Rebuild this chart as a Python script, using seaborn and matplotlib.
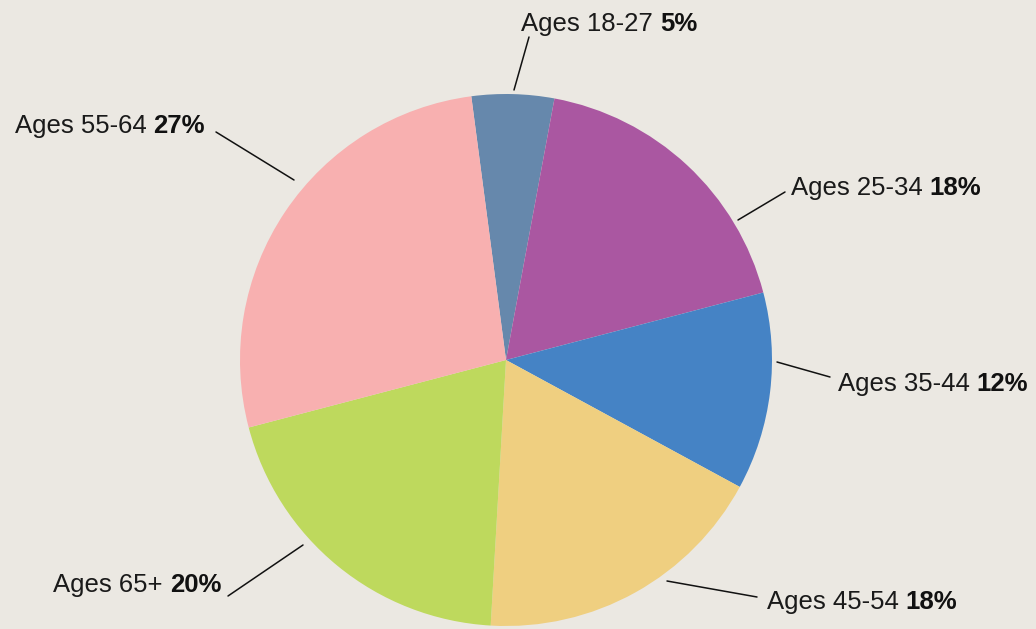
import numpy as np
import matplotlib.pyplot as plt
import seaborn as sns

# data
groups = ["Ages 18-27", "Ages 25-34", "Ages 35-44", "Ages 45-54", "Ages 65+", "Ages 55-64"]
shares = [5, 18, 12, 18, 20, 27]
colors = ["#6688ac", "#aa57a1", "#4583c5", "#efcf80", "#bed95d", "#f8b0b0"]

# layout of labels, in pixels of the 1036x629 canvas
# (line start, line end, text anchor, side)
W, H = 1036, 629
CX, CY, R = 506, 360, 266
layout = [
    ((514, 90), (529, 37), (521, 31), "left"),
    ((738, 220), (785, 192), (791, 195), "left"),
    ((777, 362), (830, 377), (838, 391), "left"),
    ((667, 581), (757, 597), (767, 609), "left"),
    ((303, 545), (228, 596), (221, 592), "right"),
    ((294, 180), (216, 132), (205, 133), "right"),
]


def to_data(p):
    return ((p[0] - CX) / R, (CY - p[1]) / R)


sns.set_theme(style="white")
plt.rcParams["font.family"] = ["Liberation Sans", "DejaVu Sans"]

bg = "#ebe8e2"
fig = plt.figure(figsize=(W / 100, H / 100), dpi=100, facecolor=bg)
ax = fig.add_axes([0, 0, 1, 1])
ax.set_facecolor(bg)

ax.pie(shares, colors=colors, startangle=97.5, counterclock=False,
       radius=1, center=(0, 0), wedgeprops=dict(linewidth=0))

fs = 18.5
for name, val, (p0, p1, pt, side) in zip(groups, shares, layout):
    a, b = to_data(p0), to_data(p1)
    ax.plot([a[0], b[0]], [a[1], b[1]], color="#111111", lw=1.1)
    tx, ty = to_data(pt)
    if side == "left":
        t = ax.text(tx, ty, name, fontsize=fs, color="#1a1a1a",
                    ha="left", va="baseline")
        ax.annotate(f"{val}%", xy=(1, 0), xycoords=t, xytext=(5, 0),
                    textcoords="offset points", fontsize=fs, fontweight="bold",
                    color="#111111", ha="left", va="bottom")
    else:
        t = ax.text(tx, ty, f"{val}%", fontsize=fs, fontweight="bold",
                    color="#111111", ha="right", va="baseline")
        ax.annotate(name, xy=(0, 0), xycoords=t, xytext=(-5, 0),
                    textcoords="offset points", fontsize=fs, color="#1a1a1a",
                    ha="right", va="bottom")

ax.set_xlim(-CX / R, (W - CX) / R)
ax.set_ylim((CY - H) / R, CY / R)
ax.set_aspect("equal")
ax.axis("off")

fig.savefig("out.png", dpi=100, facecolor=bg)
